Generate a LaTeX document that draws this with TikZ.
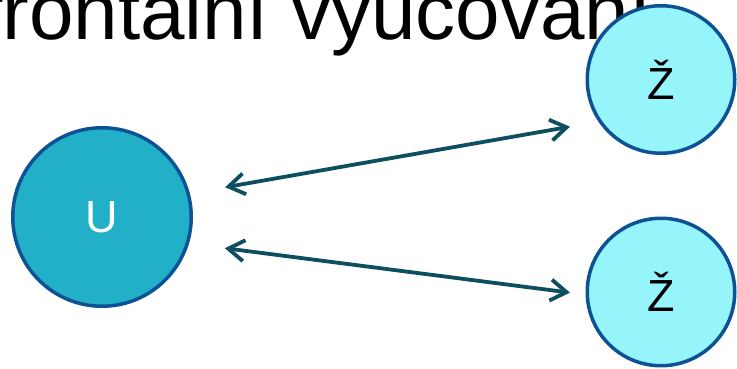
\documentclass[tikz,border=0pt]{standalone}
\usepackage{fontspec}
\setmainfont{Liberation Sans}
\usepackage{tikz}
\usepackage{xcolor}
\usetikzlibrary{arrows.meta}
\definecolor{teacherfill}{HTML}{22B0C8}
\definecolor{pupilfill}{HTML}{96F5FA}
\definecolor{ringblue}{HTML}{0E5296}
\definecolor{arrowteal}{HTML}{0D4F5E}
\tikzset{
    teacher-circle/.style = {circle, draw=ringblue, fill=teacherfill, line width=3.5pt, minimum size=178.5pt, inner sep=0pt, text=white, font=\fontsize{45pt}{50pt}\selectfont},
    pupil-circle/.style = {circle, draw=ringblue, fill=pupilfill, line width=3.5pt, minimum size=147.5pt, inner sep=0pt, text=black, font=\fontsize{45pt}{50pt}\selectfont},
    link-arrow/.style = {draw=arrowteal, line width=3.8pt, {Straight Barb[length=16pt,width=21pt]}-{Straight Barb[length=16pt,width=21pt]}},
}
\begin{document}
\begin{tikzpicture}[x=1pt,y=1pt]
\useasboundingbox (0,0) rectangle (737,369);
\clip (0,0) rectangle (737,369);
\node[anchor=base west, inner sep=0pt, font=\fontsize{80pt}{84pt}\selectfont] (title) at (-20,329) {frontální vyučování};
\node[teacher-circle] (U) at (102,152) {U};
\node[pupil-circle] (Z1) at (661,289.5) {Ž};
\node[pupil-circle] (Z2) at (661,77) {Ž};
\draw[link-arrow, shorten <=35.8pt, shorten >=28.9pt] (U.15.4) -- (Z1.214);
\draw[link-arrow, shorten <=36.1pt, shorten >=15.7pt] (U.343.4) -- (Z2.182.6);
\end{tikzpicture}
\end{document}
